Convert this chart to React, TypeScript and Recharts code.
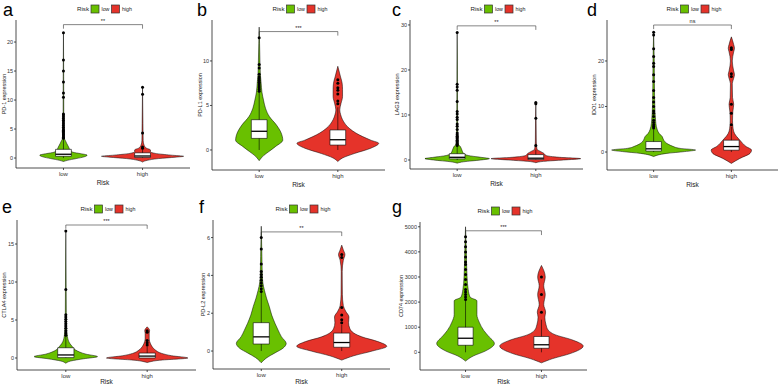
import React from 'react';
import { ComposedChart, XAxis, YAxis, Area, Line, Scatter, ReferenceDot } from 'recharts';

const GREEN = '#69C000';
const RED = '#E5332A';
const groups = ['low', 'high'];
const legendTitle = 'Risk';
const xTitle = 'Risk';

type Pair = [number, number];

// Violin profiles: [expression value, half-width in x-axis units]
// Box stats: [lower whisker, q1, median, q3, upper whisker]

// a: PD-1
const pd1LowViolin: Pair[] = [[-0.6,0],[-0.4,0.05],[-0.1,0.16],[0.2,0.26],[0.5,0.3],[0.75,0.22],[1.0,0.12],[1.4,0.085],[1.9,0.065],[2.5,0.042],[3.0,0.025],[3.4,0.01],[4.5,0.006],[8,0.004],[14,0.003],[21.6,0]];
const pd1HighViolin: Pair[] = [[-0.7,0],[-0.4,0.06],[-0.1,0.2],[0.15,0.42],[0.3,0.52],[0.5,0.36],[0.8,0.16],[1.1,0.1],[1.4,0.1],[1.7,0.05],[2.2,0.02],[3,0.008],[6,0.005],[12.3,0]];
const pd1LowBox = [0, 0.3, 0.65, 1.5, 3.3];
const pd1HighBox = [0, 0.1, 0.35, 0.9, 1.5];
const pd1LowOut = [3.4,3.6,3.8,4.0,4.2,4.4,4.6,4.8,5.0,5.3,5.6,5.9,6.2,6.5,6.8,7.1,7.4,7.6,10.5,11.2,13.1,15.0,16.9,21.6];
const pd1HighOut = [1.7,1.9,4.3,11.0,12.2];
const pd1Ticks = [0, 5, 10, 15, 20];

// b: PD-L1
const pdl1LowViolin: Pair[] = [[-1.2,0],[-0.6,0.06],[-0.2,0.12],[0.4,0.21],[1.1,0.3],[1.9,0.28],[2.8,0.22],[3.75,0.13],[4.7,0.08],[5.6,0.055],[6.5,0.035],[7.5,0.025],[8.5,0.015],[10,0.01],[12,0.005],[13.8,0]];
const pdl1HighViolin: Pair[] = [[-1.3,0],[-0.9,0.06],[-0.4,0.21],[0.2,0.42],[0.75,0.52],[1.1,0.42],[1.9,0.23],[2.4,0.15],[3.4,0.06],[4.0,0.035],[4.5,0.025],[5.2,0.04],[6.0,0.06],[6.8,0.06],[7.5,0.055],[8.2,0.035],[9.4,0]];
const pdl1LowBox = [0, 1.3, 2.1, 3.4, 6.5];
const pdl1HighBox = [0, 0.55, 1.15, 2.25, 4.8];
const pdl1LowOut = [6.6,6.8,7.0,7.2,7.4,7.6,7.8,8.0,8.2,8.5,9.2,9.6,12.6];
const pdl1HighOut = [5.2,5.5,6.3,6.7,7.0,7.5,7.9];
const pdl1Ticks = [0, 5, 10];

// c: LAG3
const lag3LowViolin: Pair[] = [[-0.7,0],[-0.4,0.08],[0,0.3],[0.3,0.41],[0.6,0.3],[1.0,0.14],[1.5,0.08],[2.2,0.06],[3.0,0.04],[3.5,0.015],[5,0.008],[10,0.005],[20,0.003],[28.3,0]];
const lag3HighViolin: Pair[] = [[-0.6,0],[-0.3,0.1],[0,0.35],[0.3,0.57],[0.6,0.3],[1.0,0.13],[1.5,0.1],[1.9,0.06],[2.4,0.015],[4,0.006],[8,0.004],[12.8,0]];
const lag3LowBox = [0, 0.25, 0.6, 1.4, 3.0];
const lag3HighBox = [0, 0.1, 0.4, 1.2, 2.3];
const lag3LowOut = [3.2,3.5,3.8,4.1,4.4,4.7,5.0,5.3,5.6,6.0,6.8,7.5,8.0,9.0,9.5,10.2,10.8,13.0,15.5,16.2,16.8,28.3];
const lag3HighOut = [3.2,9.3,12.5,12.8];
const lag3Ticks = [0, 10, 20, 30];

// d: IDO1
const ido1LowViolin: Pair[] = [[-1.0,0],[-0.3,0.17],[0.1,0.4],[0.44,0.54],[0.8,0.34],[1.3,0.24],[1.9,0.17],[2.6,0.13],[3.4,0.11],[4.1,0.07],[5.0,0.045],[5.6,0.035],[7,0.025],[10,0.015],[15,0.01],[20,0.008],[26.5,0]];
const ido1HighViolin: Pair[] = [[-2.5,0],[-1.4,0.11],[-0.3,0.24],[0.44,0.26],[1.2,0.19],[2.6,0.11],[4.1,0.04],[5.5,0.02],[7,0.015],[9,0.02],[10.5,0.03],[12,0.015],[15,0.012],[16.2,0.03],[17,0.04],[17.8,0.03],[20,0.012],[22,0.03],[22.8,0.04],[23.6,0.03],[25.3,0]];
const ido1LowBox = [0, 0.2, 0.7, 2.3, 5.0];
const ido1HighBox = [0, 0.4, 1.2, 2.6, 5.5];
const ido1LowOut = [5.3,5.6,6.0,6.5,7.0,7.8,8.5,9.0,10.0,11.0,12.0,13.5,15.5,17.0,18.8,19.5,21.0,22.7,25.7,26.3];
const ido1HighOut = [6.0,8.5,10.5,16.6,17.2,22.5,22.9];
const ido1Ticks = [0, 10, 20];

// e: CTLA4
const ctla4LowViolin: Pair[] = [[-0.7,0],[-0.4,0.06],[-0.1,0.22],[0.18,0.39],[0.5,0.25],[1.05,0.12],[1.5,0.08],[1.9,0.05],[2.8,0.02],[4,0.01],[6,0.006],[10,0.004],[16.7,0]];
const ctla4HighViolin: Pair[] = [[-0.6,0],[-0.3,0.15],[0,0.5],[0.3,0.3],[0.6,0.18],[1.05,0.1],[1.5,0.06],[1.9,0.04],[2.5,0.025],[3.2,0.025],[3.6,0.03],[4.1,0]];
const ctla4LowBox = [0, 0.05, 0.4, 1.35, 2.9];
const ctla4HighBox = [0, 0.0, 0.25, 0.65, 1.5];
const ctla4LowOut = [3.0,3.3,3.6,3.9,4.2,4.5,4.8,5.1,5.4,5.7,9.0,16.7];
const ctla4HighOut = [1.7,2.0,2.3,3.4,3.6];
const ctla4Ticks = [0, 5, 10, 15];

// f: PD-L2
const pdl2LowViolin: Pair[] = [[-0.62,0],[-0.35,0.07],[-0.1,0.17],[0.15,0.27],[0.4,0.31],[0.76,0.25],[1.1,0.21],[1.47,0.17],[1.9,0.13],[2.35,0.1],[2.8,0.065],[3.2,0.04],[3.6,0.02],[4.1,0.012],[5,0.008],[6.6,0]];
const pdl2HighViolin: Pair[] = [[-0.48,0],[-0.25,0.15],[0,0.38],[0.25,0.56],[0.5,0.45],[0.75,0.25],[0.95,0.15],[1.2,0.1],[1.5,0.085],[1.8,0.09],[2.1,0.05],[2.4,0.02],[3,0.008],[4.2,0.006],[4.8,0.02],[5.1,0.04],[5.35,0.02],[5.6,0]];
const pdl2LowBox = [0, 0.37, 0.75, 1.5, 3.1];
const pdl2HighBox = [0, 0.2, 0.45, 0.95, 1.4];
const pdl2LowOut = [3.15,3.3,3.45,3.6,3.75,3.9,4.05,4.2,4.6,5.4,6.0];
const pdl2HighOut = [1.5,1.65,1.9,2.3,4.95,5.1];
const pdl2Ticks = [0, 2, 4, 6];

// g: CD74
const cd74LowViolin: Pair[] = [[-350,0],[-150,0.1],[50,0.26],[350,0.38],[650,0.3],[870,0.24],[1200,0.18],[1500,0.15],[1800,0.15],[2050,0.15],[2200,0.06],[2500,0.035],[3000,0.02],[4000,0.01],[5000,0]];
const cd74HighViolin: Pair[] = [[-420,0],[-250,0.15],[-50,0.38],[250,0.55],[500,0.4],[700,0.18],[880,0.09],[1100,0.06],[1400,0.045],[1600,0.055],[1900,0.03],[2300,0.05],[2650,0.03],[3000,0.05],[3460,0]];
const cd74LowBox = [0, 280, 560, 1000, 2050];
const cd74HighBox = [0, 160, 300, 630, 1300];
const cd74LowOut = [2100,2200,2300,2400,2500,2700,2900,3100,3300,3500,3600,3800,4000,4200,4400,4600];
const cd74HighOut = [1600,2300,3000];
const cd74Ticks = [0, 1000, 2000, 3000, 4000, 5000];

// axis ranges and significance brackets [height, tick drop]
const yDomains: Record<string, [number, number]> = {
  a: [-1.72, 23.8], b: [-2.25, 14.6], c: [-2.0, 31.1], d: [-3.95, 29.0],
  e: [-1.58, 18.16], f: [-0.95, 6.93], g: [-705, 5190],
};
const brackets: Record<string, [number, number]> = {
  a: [23.0, 0.7], b: [13.3, 0.45], c: [29.8, 0.9], d: [27.9, 0.9],
  e: [17.5, 0.5], f: [6.3, 0.22], g: [4840, 170],
};
const sigLabels: Record<string, string> = { a: '**', b: '***', c: '**', d: 'ns', e: '***', f: '**', g: '***' };
const yTitles: Record<string, string> = {
  a: 'PD-1 expression', b: 'PD-L1 expression', c: 'LAG3 expression', d: 'IDO1 expression',
  e: 'CTLA4 expression', f: 'PD-L2 expression', g: 'CD74 expression',
};

// layout (pixels)
const layout: Record<string, { L: number; R: number; T: number; B: number; lx: number; letterX: number; letterY: number; xh: number }> = {
  a: { L: 16, R: 190, T: 20, B: 168, lx: 4, letterX: 3, letterY: 16, xh: 19 },
  b: { L: 212, R: 385, T: 20, B: 170, lx: 200, letterX: 197, letterY: 16, xh: 19 },
  c: { L: 410, R: 583, T: 20, B: 169, lx: 397, letterX: 392, letterY: 16, xh: 19 },
  d: { L: 607, R: 778, T: 20, B: 170, lx: 594, letterX: 587, letterY: 16, xh: 19 },
  e: { L: 17, R: 196, T: 220, B: 370, lx: 4, letterX: 2, letterY: 213, xh: 16 },
  f: { L: 213, R: 390, T: 220, B: 369, lx: 203, letterX: 199, letterY: 213, xh: 17 },
  g: { L: 420, R: 587, T: 222, B: 370, lx: 401, letterX: 392, letterY: 213, xh: 16 },
};

const panels = [
  { id: 'a', lowV: pd1LowViolin, highV: pd1HighViolin, lowB: pd1LowBox, highB: pd1HighBox, lowO: pd1LowOut, highO: pd1HighOut, ticks: pd1Ticks },
  { id: 'b', lowV: pdl1LowViolin, highV: pdl1HighViolin, lowB: pdl1LowBox, highB: pdl1HighBox, lowO: pdl1LowOut, highO: pdl1HighOut, ticks: pdl1Ticks },
  { id: 'c', lowV: lag3LowViolin, highV: lag3HighViolin, lowB: lag3LowBox, highB: lag3HighBox, lowO: lag3LowOut, highO: lag3HighOut, ticks: lag3Ticks },
  { id: 'd', lowV: ido1LowViolin, highV: ido1HighViolin, lowB: ido1LowBox, highB: ido1HighBox, lowO: ido1LowOut, highO: ido1HighOut, ticks: ido1Ticks },
  { id: 'e', lowV: ctla4LowViolin, highV: ctla4HighViolin, lowB: ctla4LowBox, highB: ctla4HighBox, lowO: ctla4LowOut, highO: ctla4HighOut, ticks: ctla4Ticks },
  { id: 'f', lowV: pdl2LowViolin, highV: pdl2HighViolin, lowB: pdl2LowBox, highB: pdl2HighBox, lowO: pdl2LowOut, highO: pdl2HighOut, ticks: pdl2Ticks },
  { id: 'g', lowV: cd74LowViolin, highV: cd74HighViolin, lowB: cd74LowBox, highB: cd74HighBox, lowO: cd74LowOut, highO: cd74HighOut, ticks: cd74Ticks },
];

const BOX_HW = 0.1;
const FONT = '"Liberation Sans", Arial, Helvetica, sans-serif';

const violinData = (profile: Pair[], c: number) => profile.map(([y, w]) => ({ y, r: [c - w, c + w] }));
const boxFill = (b: number[], c: number) => [
  { y: b[1], r: [c - BOX_HW, c + BOX_HW] },
  { y: b[3], r: [c - BOX_HW, c + BOX_HW] },
];
const boxOutline = (b: number[], c: number) => [
  { y: b[1], v: c - BOX_HW }, { y: b[1], v: c + BOX_HW }, { y: b[3], v: c + BOX_HW },
  { y: b[3], v: c - BOX_HW }, { y: b[1], v: c - BOX_HW },
];
const median = (b: number[], c: number) => [{ y: b[2], v: c - BOX_HW }, { y: b[2], v: c + BOX_HW }];
const lowerWhisker = (b: number[], c: number) => [{ y: b[0], v: c }, { y: b[1], v: c }];
const upperWhisker = (b: number[], c: number) => [{ y: b[3], v: c }, { y: b[4], v: c }];
const points = (vals: number[], c: number) => vals.map((y) => ({ x: c, y }));

const Dot = (p: any) => <circle cx={p.cx} cy={p.cy} r={1.5} fill="#000" />;

function Panel({ cfg }: { cfg: (typeof panels)[number] }) {
  const lay = layout[cfg.id];
  const chartLeft = lay.lx - 4;
  const chartTop = lay.T - 10;
  const width = lay.R - chartLeft + 3;
  const height = lay.B + lay.xh - chartTop;
  const [bh, bd] = brackets[cfg.id];
  const bracket = [{ y: bh - bd, v: 1 }, { y: bh, v: 1 }, { y: bh, v: 2 }, { y: bh - bd, v: 2 }];
  const series = [
    { c: 1, v: cfg.lowV, b: cfg.lowB, o: cfg.lowO, fill: GREEN },
    { c: 2, v: cfg.highV, b: cfg.highB, o: cfg.highO, fill: RED },
  ];
  const lineProps = { type: 'linear' as const, dataKey: 'v', stroke: '#000', dot: false, activeDot: false, isAnimationActive: false, legendType: 'none' as const };
  return (
    <div style={{ position: 'absolute', left: chartLeft, top: chartTop }}>
      <ComposedChart layout="vertical" width={width} height={height} margin={{ top: 10, right: 3, bottom: 0, left: 0 }}>
        <XAxis
          type="number"
          dataKey="x"
          domain={[0.4, 2.6]}
          ticks={[1, 2]}
          allowDataOverflow
          tickFormatter={(v: number) => groups[v - 1]}
          height={lay.xh}
          tickSize={2}
          tickMargin={1.5}
          stroke="#222"
          strokeWidth={0.8}
          tick={{ fontSize: 6, fill: '#333', fontFamily: FONT }}
          label={{ value: xTitle, position: 'insideBottom', offset: 2, fontSize: 6.5, fill: '#222', fontFamily: FONT }}
        />
        <YAxis
          type="number"
          dataKey="y"
          reversed
          domain={yDomains[cfg.id]}
          ticks={cfg.ticks}
          allowDataOverflow
          width={lay.L - chartLeft}
          tickSize={2}
          tickMargin={1}
          stroke="#222"
          strokeWidth={0.8}
          tick={{ fontSize: 5.5, fill: '#333', fontFamily: FONT }}
          label={{ value: yTitles[cfg.id], angle: -90, position: 'insideLeft', offset: 4, fontSize: 5.5, fill: '#222', fontFamily: FONT, style: { textAnchor: 'middle' } }}
        />
        {series.map((s) => (
          <Area key={'v' + s.c} data={violinData(s.v, s.c)} dataKey="r" type="monotone" fill={s.fill} fillOpacity={1} stroke="#000" strokeWidth={0.5} dot={false} activeDot={false} isAnimationActive={false} legendType="none" />
        ))}
        {series.map((s) => (
          <Area key={'bf' + s.c} data={boxFill(s.b, s.c)} dataKey="r" type="linear" fill="#fff" fillOpacity={1} stroke="none" dot={false} activeDot={false} isAnimationActive={false} legendType="none" />
        ))}
        {series.map((s) => (
          <Line key={'lw' + s.c} data={lowerWhisker(s.b, s.c)} strokeWidth={0.6} {...lineProps} />
        ))}
        {series.map((s) => (
          <Line key={'uw' + s.c} data={upperWhisker(s.b, s.c)} strokeWidth={0.6} {...lineProps} />
        ))}
        {series.map((s) => (
          <Line key={'bo' + s.c} data={boxOutline(s.b, s.c)} strokeWidth={0.6} {...lineProps} />
        ))}
        {series.map((s) => (
          <Line key={'md' + s.c} data={median(s.b, s.c)} strokeWidth={1.3} {...lineProps} />
        ))}
        {series.map((s) => (
          <Scatter key={'o' + s.c} data={points(s.o, s.c)} shape={Dot} isAnimationActive={false} legendType="none" />
        ))}
        <Line data={bracket} strokeWidth={0.6} {...lineProps} stroke="#333" />
        <ReferenceDot x={1.5} y={bh} r={0} fill="none" stroke="none" ifOverflow="visible"
          label={{ value: sigLabels[cfg.id], position: 'top', offset: 2, fontSize: 5.5, fill: '#222', fontFamily: FONT }} />
      </ComposedChart>
    </div>
  );
}

function Overlay() {
  return (
    <svg width={783} height={386} style={{ position: 'absolute', left: 0, top: 0, pointerEvents: 'none' }}>
      {panels.map((p) => {
        const lay = layout[p.id];
        const cx = (lay.L + lay.R) / 2;
        const cy = lay.T - 11;
        return (
          <g key={p.id} fontFamily={FONT}>
            <text x={lay.letterX} y={lay.letterY} fontSize={18} fill="#000">{p.id}</text>
            <text x={cx - 14} y={cy + 2.2} fontSize={6.2} textAnchor="end" fill="#222">{legendTitle}</text>
            <rect x={cx - 12} y={cy - 4} width={8} height={8} fill={GREEN} stroke="#333" strokeWidth={0.7} />
            <text x={cx - 1.5} y={cy + 2} fontSize={5.3} fill="#222">{groups[0]}</text>
            <rect x={cx + 8.5} y={cy - 4} width={8} height={8} fill={RED} stroke="#333" strokeWidth={0.7} />
            <text x={cx + 19} y={cy + 2} fontSize={5.3} fill="#222">{groups[1]}</text>
          </g>
        );
      })}
    </svg>
  );
}

export default function App() {
  return (
    <div style={{ position: 'absolute', left: 0, top: 0, width: 783, height: 386, background: '#fff', fontFamily: FONT }}>
      {panels.map((p) => (
        <Panel key={p.id} cfg={p} />
      ))}
      <Overlay />
    </div>
  );
}
